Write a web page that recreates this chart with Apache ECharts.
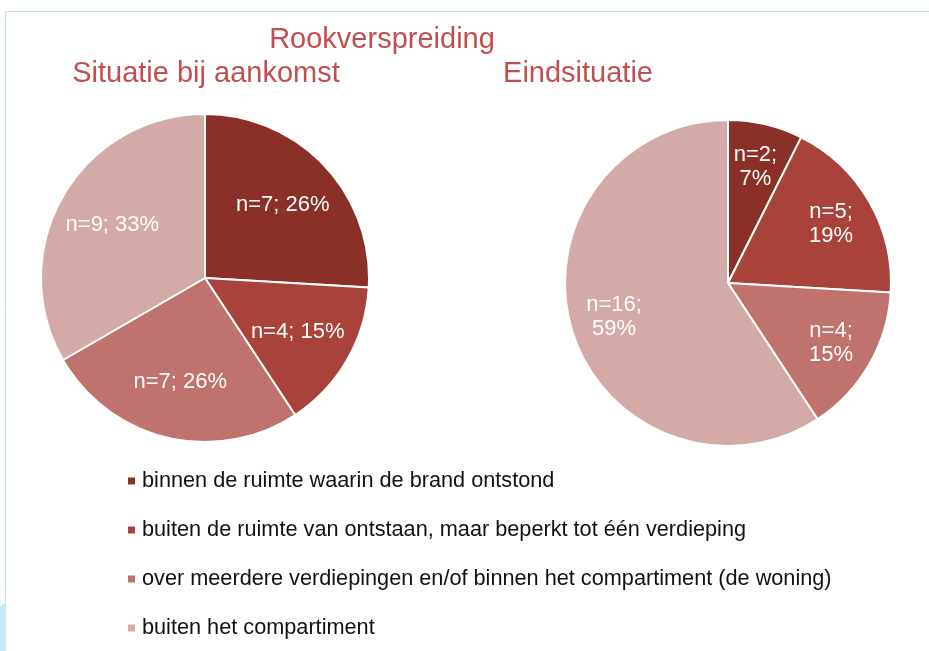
<!DOCTYPE html>
<html>
<head>
<meta charset="utf-8">
<script src="https://cdn.jsdelivr.net/npm/echarts@6/dist/echarts.min.js"></script>
<style>
html,body{margin:0;padding:0;background:#fff;}
#chart{width:929px;height:651px;}
</style>
</head>
<body>
<div id="chart"></div>
<script>
const categories = [
  'binnen de ruimte waarin de brand ontstond',
  'buiten de ruimte van ontstaan, maar beperkt tot één verdieping',
  'over meerdere verdiepingen en/of binnen het compartiment (de woning)',
  'buiten het compartiment'
];
const aankomstValues = [7, 4, 7, 9];
const eindValues = [2, 5, 4, 16];
const mainTitle = 'Rookverspreiding';
const subTitles = ['Situatie bij aankomst', 'Eindsituatie'];
const colors = ['#8B3029', '#A8423A', '#BF726E', '#D4AAA9'];

const FONT = '"Liberation Sans", Arial, sans-serif';
const toData = vals => vals.map((v, i) => ({ name: categories[i], value: v }));

function piePair(vals, center, r, labelMid, multiline) {
  return [
    {
      type: 'pie',
      center: center,
      radius: [0, r],
      startAngle: 90,
      clockwise: true,
      percentPrecision: 0,
      avoidLabelOverlap: false,
      animation: false,
      data: toData(vals),
      itemStyle: { borderColor: '#fff', borderWidth: 2 },
      label: { show: false },
      labelLine: { show: false },
      emphasis: { disabled: true }
    },
    {
      type: 'pie',
      center: center,
      radius: [2 * labelMid - r, r],
      startAngle: 90,
      clockwise: true,
      percentPrecision: 0,
      avoidLabelOverlap: false,
      animation: false,
      silent: true,
      data: toData(vals),
      itemStyle: { color: 'rgba(0,0,0,0)', borderWidth: 0 },
      label: {
        show: true,
        position: 'inside',
        color: '#fff',
        fontFamily: FONT,
        fontSize: 22,
        lineHeight: 24,
        formatter: p => 'n=' + p.value + ';' + (multiline ? '\n' : ' ') + p.percent + '%'
      },
      labelLine: { show: false },
      emphasis: { disabled: true }
    }
  ];
}

const chart = echarts.init(document.getElementById('chart'));
chart.setOption({
  backgroundColor: '#fff',
  color: colors,
  animation: false,
  title: [
    { text: mainTitle, left: 382, top: 25, textAlign: 'center', padding: 0,
      textStyle: { color: '#C0504D', fontFamily: FONT, fontSize: 29, fontWeight: 'normal' } },
    { text: subTitles[0], left: 206, top: 59, textAlign: 'center', padding: 0,
      textStyle: { color: '#C0504D', fontFamily: FONT, fontSize: 29, fontWeight: 'normal' } },
    { text: subTitles[1], left: 578, top: 59, textAlign: 'center', padding: 0,
      textStyle: { color: '#C0504D', fontFamily: FONT, fontSize: 29, fontWeight: 'normal' } }
  ],
  legend: {
    orient: 'vertical',
    left: 126,
    top: 469,
    padding: 0,
    itemGap: 25,
    itemWidth: 9,
    itemHeight: 9,
    icon: 'rect',
    selectedMode: false,
    data: categories,
    textStyle: { color: '#111', fontFamily: FONT, fontSize: 21.7, lineHeight: 24, padding: [0, 0, 0, 1] }
  },
  graphic: [
    { type: 'line', silent: true, shape: { x1: 5, y1: 11.5, x2: 929, y2: 11.5 },
      style: { stroke: '#BFE2F4', lineWidth: 1 } },
    { type: 'line', silent: true, shape: { x1: 5.5, y1: 11, x2: 5.5, y2: 602 },
      style: { stroke: '#BFE2F4', lineWidth: 1 } },
    { type: 'polygon', silent: true, shape: { points: [[0, 606], [6, 602], [6, 651], [0, 651]] },
      style: { fill: '#C8E7F6' } }
  ],
  series: [
    ...piePair(aankomstValues, [205, 278], 164, 104, false),
    ...piePair(eindValues, [728, 283], 163, 116, true)
  ]
});
</script>
</body>
</html>
